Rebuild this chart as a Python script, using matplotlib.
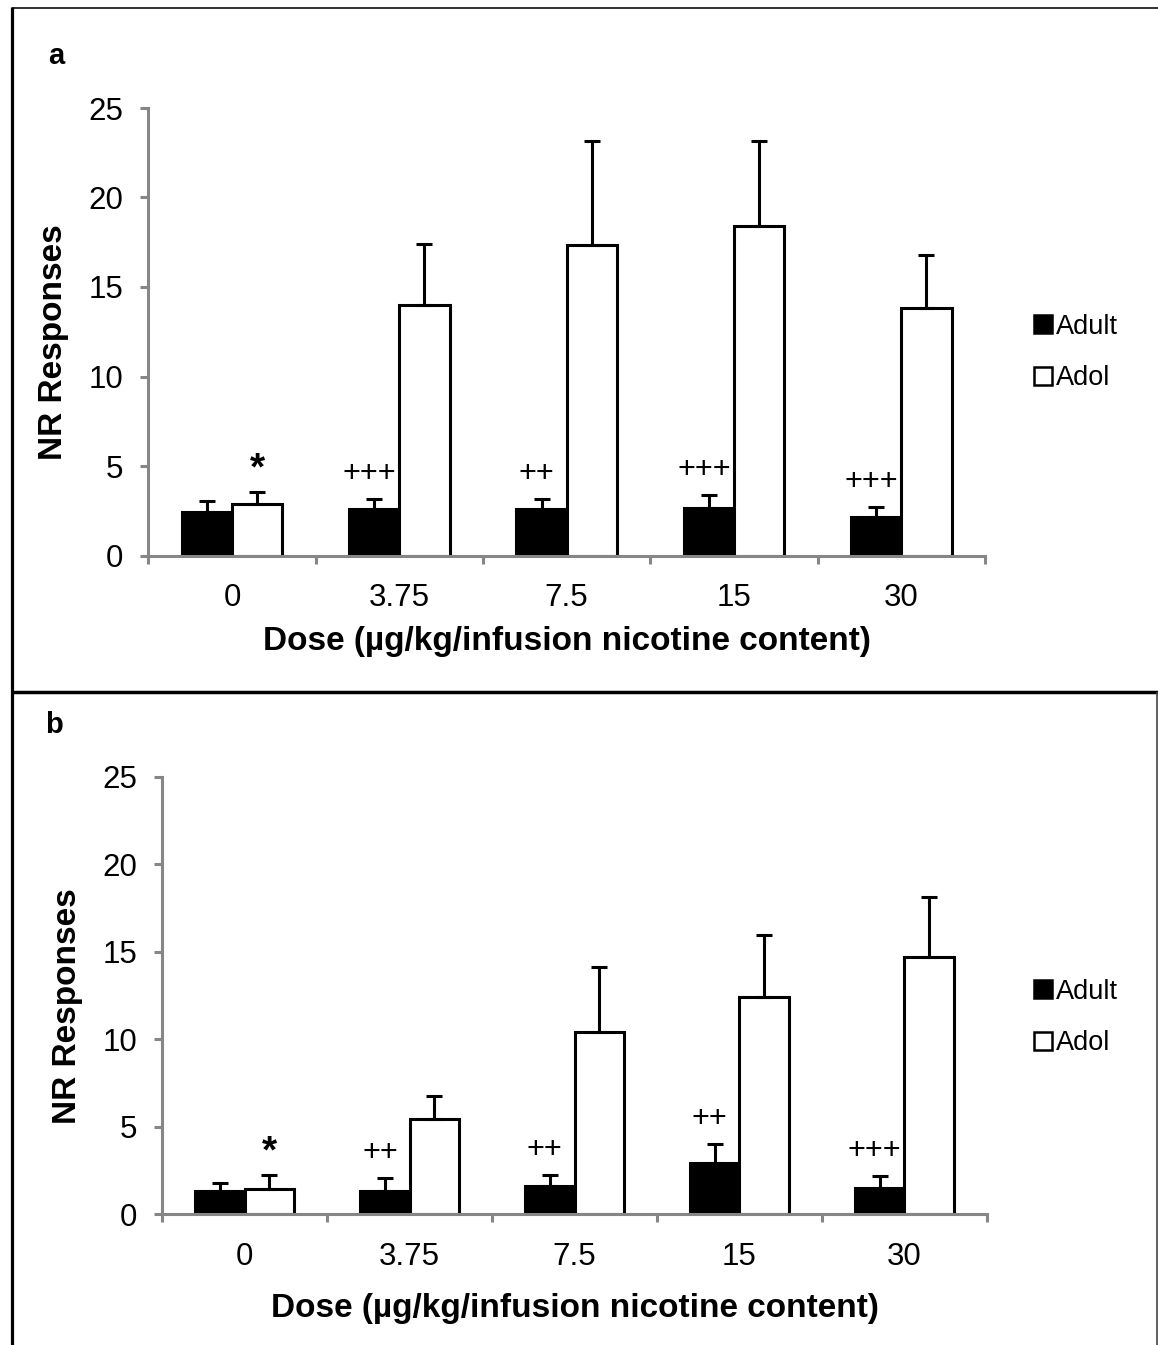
import matplotlib
matplotlib.use("Agg")
import matplotlib.pyplot as plt
from matplotlib.lines import Line2D
from matplotlib.patches import Patch
import numpy as np

plt.rcParams['font.family'] = ['Liberation Sans', 'DejaVu Sans']

doses = ["0", "3.75", "7.5", "15", "30"]
groups = ["Adult", "Adol"]

# Panel a
a_adult = [2.42, 2.62, 2.60, 2.66, 2.15]
a_adult_err = [0.65, 0.56, 0.58, 0.73, 0.57]
a_adol = [2.87, 13.98, 17.36, 18.41, 13.84]
a_adol_err = [0.67, 3.41, 5.78, 4.72, 2.94]
a_adult_marks = ["", "+++", "++", "+++", "+++"]
a_adol_marks = ["*", "", "", "", ""]

# Panel b
b_adult = [1.32, 1.32, 1.60, 2.90, 1.47]
b_adult_err = [0.44, 0.72, 0.63, 1.10, 0.71]
b_adol = [1.45, 5.44, 10.40, 12.40, 14.70]
b_adol_err = [0.78, 1.28, 3.70, 3.55, 3.40]
b_adult_marks = ["", "++", "++", "++", "+++"]
b_adol_marks = ["*", "", "", "", ""]

W, H = 1158, 1345
fig = plt.figure(figsize=(W / 100, H / 100), dpi=100)

GRAY = "#868686"
LW = 2.2


def px_rect(l, r, b, t):
    return [l / W, 1 - b / H, (r - l) / W, (b - t) / H]


def draw_panel(rect, adult, adult_err, adol, adol_err, adult_marks, adol_marks,
               letter, letter_xy, ylab_coords, xlab_y, legend_y):
    ax = fig.add_axes(rect)
    x = np.arange(len(doses))
    bw = 0.30
    ax.bar(x - bw / 2, adult, bw, color="black", edgecolor="black", linewidth=LW, zorder=2)
    ax.bar(x + bw / 2, adol, bw, color="white", edgecolor="black", linewidth=LW, zorder=2)
    ax.errorbar(x - bw / 2, adult, yerr=[np.zeros(len(x)), adult_err], fmt="none",
                ecolor="black", elinewidth=LW, capsize=5.8, capthick=LW, zorder=3)
    ax.errorbar(x + bw / 2, adol, yerr=[np.zeros(len(x)), adol_err], fmt="none",
                ecolor="black", elinewidth=LW, capsize=5.8, capthick=LW, zorder=3)
    for i in range(len(x)):
        if adult_marks[i]:
            ax.annotate(adult_marks[i], (x[i] - bw / 2 - 0.03, adult[i] + adult_err[i]),
                        xytext=(0, 18), textcoords="offset points", ha="center",
                        va="center", fontsize=22)
        if adol_marks[i]:
            ax.annotate(adol_marks[i], (x[i] + bw / 2, adol[i] + adol_err[i]),
                        xytext=(0, 16), textcoords="offset points", ha="center",
                        va="center", fontsize=28, fontweight="bold")
    ax.set_xlim(-0.5, len(x) - 0.5)
    ax.set_ylim(0, 25)
    ax.set_yticks([0, 5, 10, 15, 20, 25])
    ax.tick_params(axis="y", direction="out", length=6, width=LW, color=GRAY,
                   labelsize=22.5, pad=12)
    ax.set_xticks(np.arange(-0.5, len(x), 1.0))
    ax.set_xticklabels([])
    ax.tick_params(axis="x", which="major", direction="out", length=6, width=LW, color=GRAY)
    ax.set_xticks(x, minor=True)
    ax.set_xticklabels(doses, minor=True)
    ax.tick_params(axis="x", which="minor", length=0, labelsize=22.5, pad=20)
    for s in ["top", "right"]:
        ax.spines[s].set_visible(False)
    for s in ["left", "bottom"]:
        ax.spines[s].set_color(GRAY)
        ax.spines[s].set_linewidth(LW)
    ax.set_ylabel("NR Responses", fontsize=24, fontweight="bold")
    ax.yaxis.set_label_coords(*ylab_coords)
    ax.set_xlabel("Dose (µg/kg/infusion nicotine content)", fontsize=24, fontweight="bold")
    ax.xaxis.set_label_coords(0.5, xlab_y)
    fig.text(letter_xy[0] / W, 1 - letter_xy[1] / H, letter, fontsize=21,
             fontweight="bold", ha="left", va="baseline")
    handles = [Patch(facecolor="black", edgecolor="black", linewidth=1.8),
               Patch(facecolor="white", edgecolor="black", linewidth=1.8)]
    fig.legend(handles, groups, loc="center left",
               bbox_to_anchor=(1034 / W, 1 - legend_y / H), frameon=False,
               fontsize=19.5, handlelength=0.65, handleheight=0.65,
               handletextpad=0.15, labelspacing=0.95, borderpad=0, borderaxespad=0)
    return ax


draw_panel(px_rect(148.3, 985, 555.5, 108), a_adult, a_adult_err, a_adol, a_adol_err,
           a_adult_marks, a_adol_marks, "a", (48, 64), (-0.0948, 0.476), -0.158, 352.5)
draw_panel(px_rect(162.3, 986.7, 1214, 776.7), b_adult, b_adult_err, b_adol, b_adol_err,
           b_adult_marks, b_adol_marks, "b", (45, 733), (-0.096, 0.476), -0.181, 1017.5)

# frame lines
def fline(x0, y0, x1, y1, lw, color):
    fig.add_artist(Line2D([x0 / W, x1 / W], [1 - y0 / H, 1 - y1 / H],
                          transform=fig.transFigure, lw=lw, color=color,
                          solid_capstyle="butt"))

fline(11.5, 8.3, W, 8.3, 1.3, "#222222")
fline(11.5, 7, 11.5, H, 2.3, "black")
fline(11.5, 692, W, 692, 2.5, "black")
fline(1157, 692, 1157, H, 1.2, "#444444")

fig.savefig("out.png", dpi=100)
